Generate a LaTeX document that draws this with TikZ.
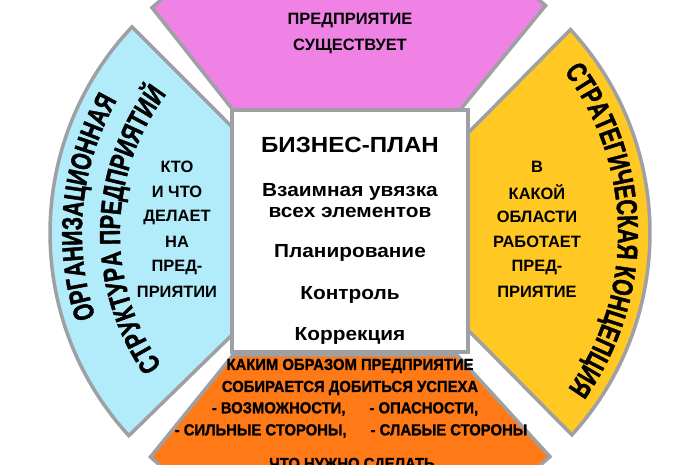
\documentclass[tikz,border=0pt]{standalone}
\usepackage{fontspec}
\setmainfont{Liberation Sans}
\newfontfamily\widefont{Liberation Sans}[FakeStretch=1.1]
\newfontfamily\narrowfont{Liberation Sans}[FakeStretch=0.93, FakeBold=1.2]
\newfontfamily\arcfont{Liberation Sans}[FakeStretch=0.73, FakeBold=1.5]
\usetikzlibrary{positioning,calc,decorations.text}

\definecolor{pinkfill}{RGB}{240,130,230}
\definecolor{bluefill}{RGB}{178,236,250}
\definecolor{yellowfill}{RGB}{255,200,34}
\definecolor{orangefill}{RGB}{255,122,22}
\definecolor{rimgray}{RGB}{158,160,164}

\begin{document}
\begin{tikzpicture}[x=1bp, y=1bp, node distance=25bp, on grid,
   sector/.style={draw=rimgray, line width=3.5bp},
   word/.style={font=\bfseries\fontsize{16.5}{16.5}\selectfont, inner sep=0pt},
   orange text/.style={font=\narrowfont\bfseries\fontsize{16}{16}\selectfont, inner sep=0pt},
   plan text/.style={font=\widefont\bfseries\fontsize{19}{21}\selectfont, inner sep=0pt, align=center},
   arc text/.style={decorate, decoration={text along path, text align=center,
      text={|\arcfont\bfseries\fontsize{29}{29}\selectfont|#1}}}]
   \useasboundingbox (0,0) rectangle (700,465);
   \clip (0,0) rectangle (700,465);
   \coordinate (C) at (350,232);

   \draw[sector, fill=pinkfill] (233,355) -- ($(C)+(131.3:300)$) arc[start angle=131.3, end angle=49.3, radius=300] -- (460,355) -- cycle;
   \draw[sector, fill=bluefill] (232,338) -- ($(C)+(136.6:300)$) arc[start angle=136.6, end angle=222.5, radius=300] -- (232,130) -- cycle;
   \draw[sector, fill=yellowfill] (468,332) -- ($(C)+(42.7:300)$) arc[start angle=42.7, end angle=-42.3, radius=300] -- (468,135) -- cycle;
   \draw[sector, fill=orangefill] (233,110) -- ($(C)+(228.3:300)$) arc[start angle=228.3, end angle=311.8, radius=300] -- (457,110) -- cycle;

   \node[draw=rimgray, line width=4.5bp, fill=white, minimum width=236bp, minimum height=242bp] (plan) at (350,234) {};

   \node[plan text, font=\widefont\bfseries\fontsize{22}{22}\selectfont] (c_0) [below=29bp of plan.north] {БИЗНЕС-ПЛАН};
   \node[plan text] (c_1) [below=56bp of c_0] {Взаимная увязка\\всех элементов};
   \node[plan text] (c_2) [below=52bp of c_1] {Планирование};
   \node[plan text] (c_3) [below=42bp of c_2] {Контроль};
   \node[plan text] (c_4) [below=41bp of c_3] {Коррекция};

   \node[word] (m_0) at (350,445) {ПРЕДПРИЯТИЕ};
   \node[word] (m_1) [below=26bp of m_0] {СУЩЕСТВУЕТ};

   \node[word] (b_0) at (177,298) {КТО};
   \node[word] (b_1) [below=of b_0] {И ЧТО};
   \node[word] (b_2) [below=of b_1] {ДЕЛАЕТ};
   \node[word] (b_3) [below=of b_2] {НА};
   \node[word] (b_4) [below=of b_3] {ПРЕД-};
   \node[word] (b_5) [below=of b_4] {ПРИЯТИИ};

   \node[word] (y_0) at (537,298) {В};
   \node[word] (y_1) [below=of y_0] {КАКОЙ};
   \node[word] (y_2) [below=of y_1] {ОБЛАСТИ};
   \node[word] (y_3) [below=of y_2] {РАБОТАЕТ};
   \node[word] (y_4) [below=of y_3] {ПРЕД-};
   \node[word] (y_5) [below=of y_4] {ПРИЯТИЕ};

   \node[orange text] (o_0) at (350,99) {КАКИМ ОБРАЗОМ ПРЕДПРИЯТИЕ};
   \node[orange text] (o_1) [below=22bp of o_0] {СОБИРАЕТСЯ ДОБИТЬСЯ УСПЕХА};
   \node[orange text] (o_2) [below=21bp of o_1, xshift=-5bp] {- ВОЗМОЖНОСТИ,\hspace{24bp}- ОПАСНОСТИ,};
   \node[orange text] (o_3) [below=22bp of o_2, xshift=6bp] {- СИЛЬНЫЕ СТОРОНЫ,\hspace{24bp}- СЛАБЫЕ СТОРОНЫ};
   \node[orange text] (o_4) [below=34bp of o_3, xshift=1bp] {ЧТО НУЖНО СДЕЛАТЬ};

   \path[arc text={ОРГАНИЗАЦИОННАЯ}] ($(C)+(234.3:268)$) arc[start angle=234.3, end angle=114.3, radius=268];
   \path[arc text={СТРУКТУРА ПРЕДПРИЯТИЙ}] ($(C)+(239:230)$) arc[start angle=239, end angle=119, radius=230];
   \path[arc text={СТРАТЕГИЧЕСКАЯ КОНЦЕПЦИЯ}] ($(C)+(60.7:268)$) arc[start angle=60.7, end angle=-59.3, radius=268];
\end{tikzpicture}
\end{document}
